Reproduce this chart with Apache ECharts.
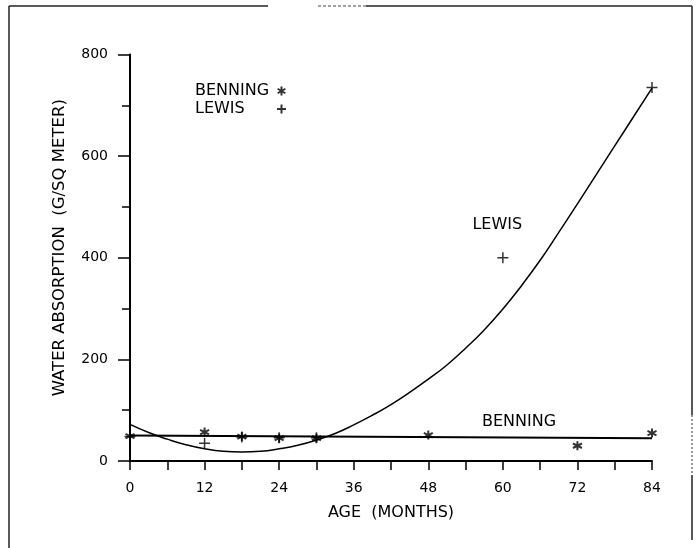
<!DOCTYPE html>
<html>
<head>
<meta charset="utf-8">
<script src="https://cdn.jsdelivr.net/npm/echarts@6/dist/echarts.min.js"></script>
<style>html,body{margin:0;padding:0;background:#fff}#c{width:699px;height:548px}</style>
</head>
<body>
<div id="c"></div>
<script>
// Observed data points (age in months, water absorption g/sq m)
var benningAge = [0, 12, 18, 24, 30, 48, 72, 84];
var benningVal = [49, 57, 48, 45, 45, 51, 30, 55];
var lewisAge = [0, 12, 18, 24, 30, 60, 84];
var lewisVal = [48, 35, 47, 46, 46, 400, 735];
// Fitted curves
var lewisFitAge = [0, 3, 6, 9, 12, 15, 18, 21, 24, 27, 30, 33, 36, 39, 42, 45, 48, 51, 54, 57, 60, 63, 66, 69, 72, 75, 78, 81, 84];
var lewisFitVal = [72, 56, 43, 32, 24, 19, 17.5, 19, 24, 31, 41, 54, 71, 90, 111, 135, 161, 189, 222, 258, 299, 345, 395, 450, 506, 563, 620, 677, 734];
var benningFitAge = [0, 84];
var benningFitVal = [50, 45];
var xTicks = [0, 12, 24, 36, 48, 60, 72, 84];
var yTicks = [0, 200, 400, 600, 800];

function pairs(a, b) { return a.map(function (v, i) { return [v, b[i]]; }); }

var FONT = 'DejaVu Sans';
var asterisk = 'path://M5,0L5,10M0.7,2.5L9.3,7.5M0.7,7.5L9.3,2.5';
var plus = 'path://M5,0L5,10M0,5L10,5';
var txt = { fontFamily: FONT, fontSize: 16, color: '#000' };

var chart = echarts.init(document.getElementById('c'));
chart.setOption({
  animation: false,
  backgroundColor: '#fff',
  grid: { left: 130, right: 47, top: 54.5, bottom: 87 },
  legend: {
    orient: 'vertical', left: 190, top: 78, align: 'right', itemGap: 2,
    itemWidth: 9, itemHeight: 9,
    data: ['BENNING', 'LEWIS'],
    formatter: function (n) { return '{a|' + n + '}'; },
    textStyle: { fontFamily: FONT, fontSize: 16, color: '#000',
      rich: { a: { width: 77, align: 'left', fontFamily: FONT, fontSize: 16, color: '#000' } } }
  },
  xAxis: {
    type: 'value', min: 0, max: 84, interval: 6,
    name: 'AGE  (MONTHS)', nameLocation: 'middle', nameGap: 44,
    nameTextStyle: txt,
    axisLine: { lineStyle: { color: '#000', width: 2 } },
    axisTick: { length: 9, lineStyle: { color: '#000', width: 1.5 } },
    axisLabel: { margin: 20, fontFamily: FONT, fontSize: 14, color: '#000',
      formatter: function (v) { return xTicks.indexOf(v) >= 0 ? String(v) : ''; } },
    splitLine: { show: false }
  },
  yAxis: {
    type: 'value', min: 0, max: 800, interval: 200,
    name: 'WATER ABSORPTION  (G/SQ METER)', nameLocation: 'middle', nameGap: 62,
    nameTextStyle: { fontFamily: FONT, fontSize: 16.5, color: '#000', padding: [0, 0, 0, 20] },
    axisLine: { show: true, lineStyle: { color: '#000', width: 2 } },
    axisTick: { show: true, length: 12, lineStyle: { color: '#000', width: 1.5 } },
    minorTick: { show: true, splitNumber: 2, length: 8, lineStyle: { color: '#000', width: 1.5 } },
    axisLabel: { margin: 22, fontFamily: FONT, fontSize: 14, color: '#000',
      formatter: function (v) { return yTicks.indexOf(v) >= 0 ? String(v) : ''; } },
    splitLine: { show: false }
  },
  series: [
    { name: 'LEWIS fit', type: 'line', smooth: true, showSymbol: false, silent: true,
      data: pairs(lewisFitAge, lewisFitVal), lineStyle: { color: '#000', width: 1.5 },
      markPoint: { symbol: 'circle', symbolSize: 0, data: [{ coord: [59.1, 465], label: Object.assign({ show: true, formatter: 'LEWIS' }, txt) }] } },
    { name: 'BENNING fit', type: 'line', showSymbol: false, silent: true,
      data: pairs(benningFitAge, benningFitVal), lineStyle: { color: '#000', width: 2 },
      markPoint: { symbol: 'circle', symbolSize: 0, data: [{ coord: [62.6, 78], label: Object.assign({ show: true, formatter: 'BENNING' }, txt) }] } },
    { name: 'BENNING', type: 'scatter', symbol: asterisk, symbolSize: 9,
      data: pairs(benningAge, benningVal),
      itemStyle: { color: '#000', borderColor: '#000', borderWidth: 2 } },
    { name: 'LEWIS', type: 'scatter', symbol: plus, symbolSize: 11,
      data: pairs(lewisAge, lewisVal),
      itemStyle: { color: '#000', borderColor: '#000', borderWidth: 1.5 } }
  ],
  graphic: [
    { type: 'line', shape: { x1: 9, y1: 6, x2: 268, y2: 6 }, style: { stroke: '#222', lineWidth: 1.5 } },
    { type: 'line', shape: { x1: 318, y1: 6, x2: 366, y2: 6 }, style: { stroke: '#444', lineWidth: 1.2, lineDash: [3, 2] } },
    { type: 'line', shape: { x1: 366, y1: 6, x2: 692, y2: 6 }, style: { stroke: '#222', lineWidth: 1.5 } },
    { type: 'line', shape: { x1: 9, y1: 6, x2: 9, y2: 548 }, style: { stroke: '#222', lineWidth: 1.5 } },
    { type: 'line', shape: { x1: 692, y1: 6, x2: 692, y2: 415 }, style: { stroke: '#222', lineWidth: 1.5 } },
    { type: 'line', shape: { x1: 692, y1: 415, x2: 692, y2: 475 }, style: { stroke: '#555', lineWidth: 1.2, lineDash: [2, 2] } },
    { type: 'line', shape: { x1: 692, y1: 475, x2: 692, y2: 540 }, style: { stroke: '#222', lineWidth: 1.5 } }
  ]
});
</script>
</body>
</html>
